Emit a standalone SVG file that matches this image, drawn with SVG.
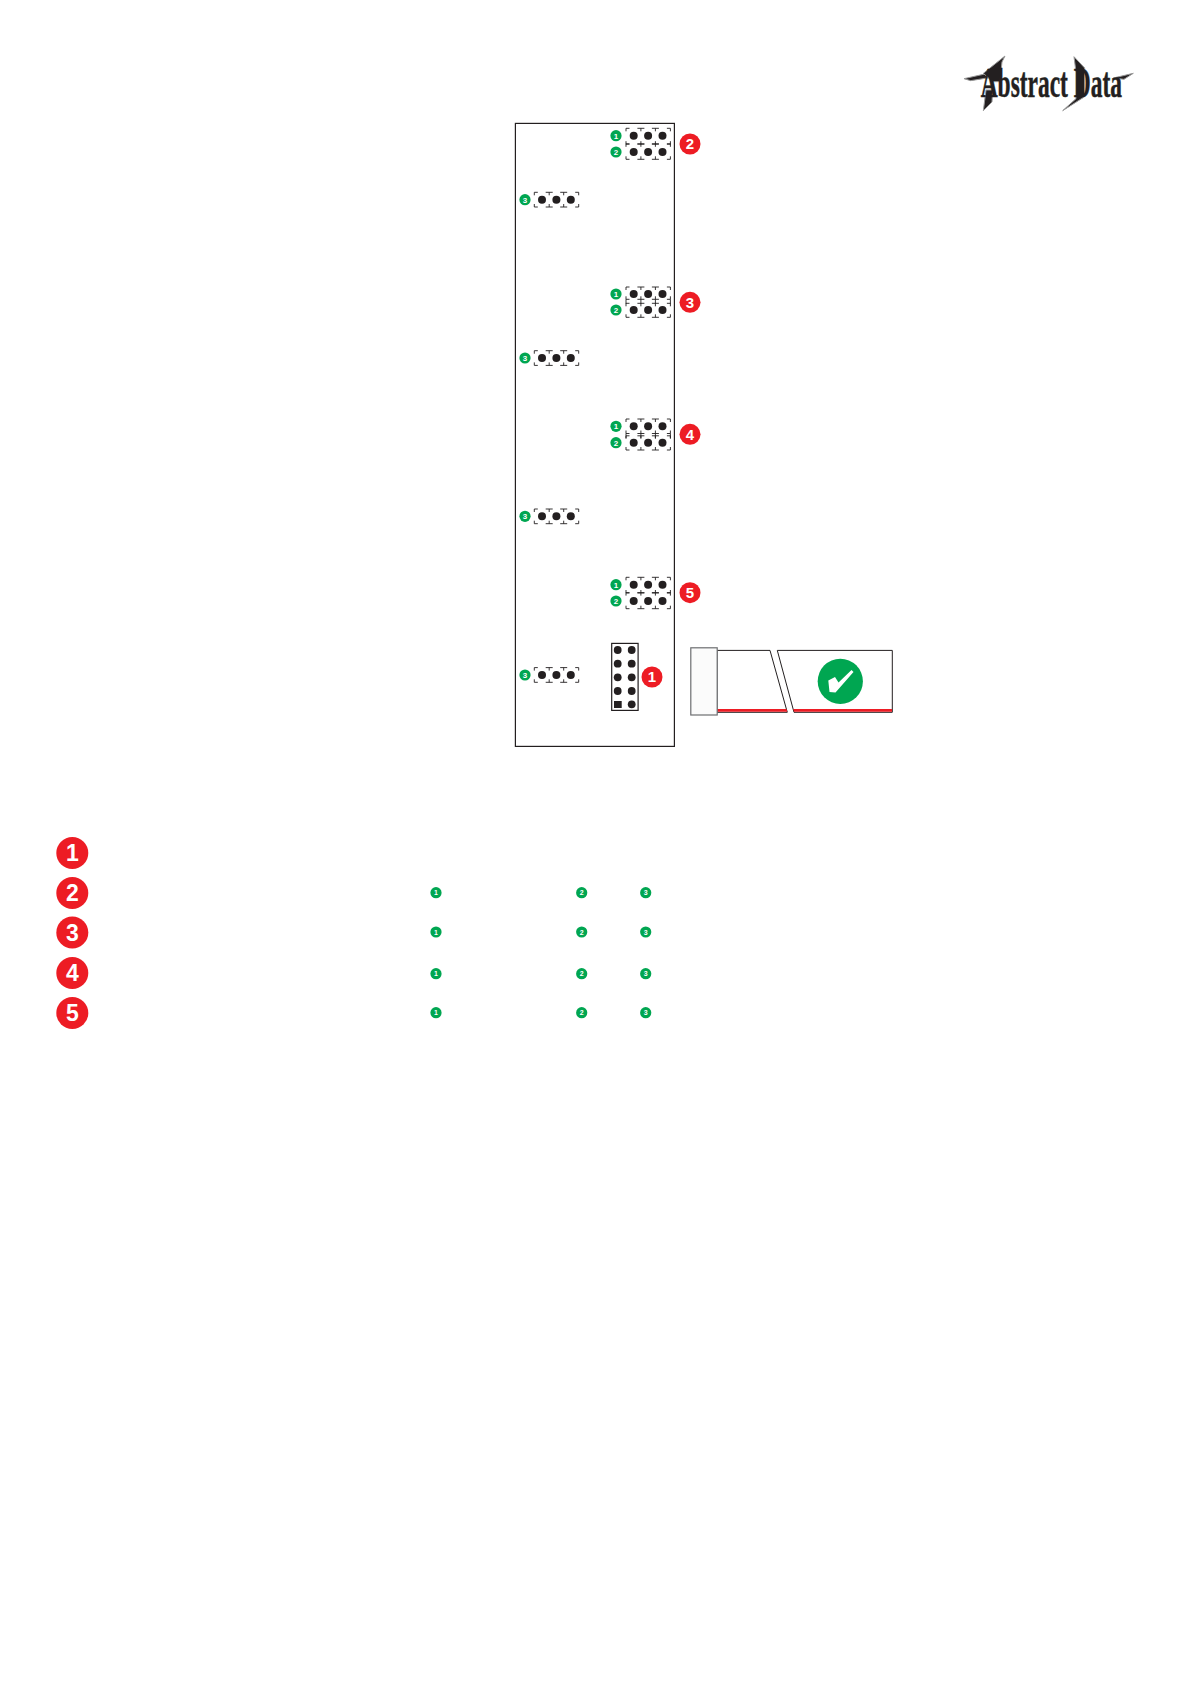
<svg xmlns="http://www.w3.org/2000/svg" width="1192" height="1685" viewBox="0 0 1192 1685">
<style>
.board{fill:#fff;stroke:#231f20;stroke-width:1.2}
.pin{fill:#231f20}
.jl{fill:none;stroke:#231f20;stroke-width:.9}
.r{fill:#ed1c24}
.g{fill:#00a651}
.rt{fill:#fff;font-family:"Liberation Sans",Arial,sans-serif;font-weight:700;text-anchor:middle}
.s{font-size:15px}
.l{font-size:23px}
.m{font-size:8px}
.xs{font-size:7px}
.wire{fill:#fff;stroke:#231f20;stroke-width:1}
.logo{font-family:"Liberation Serif","Times New Roman",serif;font-weight:700;fill:#231f20;stroke:#231f20;stroke-width:1.5}
</style>
<defs>
<path id="jt" class="jl" d="M-7.7 3V0H-4.2M33.2 0H36.7V3M3.7 0H10.7M7.2 0V3M18.2 0H25.2M21.7 0V3"/>
<path id="jb" class="jl" d="M-7.7 -3V0H-4.2M33.2 0H36.7V-3M3.7 0H10.7M7.2 0V-3M18.2 0H25.2M21.7 0V-3"/>
<path id="jm" class="jl" d="M-7.7 0V4.5M7.2 0V4.5M21.7 0V4.5M36.7 0V4.5"/>
<g id="dots"><circle class="pin" cx="0" cy="0" r="4"/><circle class="pin" cx="14.4" cy="0" r="4"/><circle class="pin" cx="28.8" cy="0" r="4"/></g>
</defs>
<rect width="1192" height="1685" fill="#fff"/>

<g id="logo" transform="translate(950 40) scale(.3333)">
<g fill="#231f20" stroke="#9a9a9a" stroke-width="3">
<polygon points="42,116 100,103 125,103 118,113 62,122"/>
<polygon points="100,100 165,48 156,66 150,125 128,125"/>
<polygon points="100,212 108,150 128,150 126,186"/>
<polygon points="372,50 404,84 404,170 338,212 378,176 378,96"/>
<polygon points="490,114 550,100 522,118"/>
</g>
<text class="logo" transform="translate(92 172) scale(.55 1)" font-size="128">Abstract Data</text>
</g>

<rect id="board" class="board" x="515.4" y="123.4" width="159" height="623"/>

<g id="jumper-2" transform="translate(633.7 0)">
<use href="#jt" y="128.3"/><use href="#jb" y="144.2"/><use href="#jt" y="143.8"/><use href="#jb" y="159.3"/>
<use href="#dots" y="135.7"/><use href="#dots" y="152"/>
</g>
<g id="jumper-3" transform="translate(633.7 0)">
<use href="#jt" y="287"/><use href="#jb" y="299.3"/><use href="#jm" y="299.3"/><use href="#jt" y="303.3"/><use href="#jb" y="317.3"/>
<use href="#dots" y="294"/><use href="#dots" y="310"/>
</g>
<g id="jumper-4" transform="translate(633.7 0)">
<use href="#jt" y="419"/><use href="#jb" y="433.5"/><use href="#jm" y="433.5"/><use href="#jt" y="435.8"/><use href="#jb" y="450"/>
<use href="#dots" y="426.3"/><use href="#dots" y="442.7"/>
</g>
<g id="jumper-5" transform="translate(633.7 0)">
<use href="#jt" y="577.3"/><use href="#jb" y="593"/><use href="#jt" y="592.6"/><use href="#jb" y="608.7"/>
<use href="#dots" y="584.7"/><use href="#dots" y="601"/>
</g>
<g id="jumper-s1" transform="translate(542 0)"><use href="#jt" y="192.3"/><use href="#jb" y="207"/><use href="#dots" y="199.7"/></g>
<g id="jumper-s2" transform="translate(542 0)"><use href="#jt" y="350.7"/><use href="#jb" y="365.4"/><use href="#dots" y="358"/></g>
<g id="jumper-s3" transform="translate(542 0)"><use href="#jt" y="509"/><use href="#jb" y="523.7"/><use href="#dots" y="516.3"/></g>
<g id="jumper-s4" transform="translate(542 0)"><use href="#jt" y="667.6"/><use href="#jb" y="682.3"/><use href="#dots" y="675"/></g>

<g id="header">
<rect x="611.7" y="643.4" width="26.4" height="67" fill="#fff" stroke="#231f20" stroke-width="1.2"/>
<circle class="pin" cx="617.7" cy="650" r="3.9"/><circle class="pin" cx="631.7" cy="650" r="3.9"/>
<circle class="pin" cx="617.7" cy="663.7" r="3.9"/><circle class="pin" cx="631.7" cy="663.7" r="3.9"/>
<circle class="pin" cx="617.7" cy="677.3" r="3.9"/><circle class="pin" cx="631.7" cy="677.3" r="3.9"/>
<circle class="pin" cx="617.7" cy="691" r="3.9"/><circle class="pin" cx="631.7" cy="691" r="3.9"/>
<rect class="pin" x="614" y="701" width="7.7" height="7"/><circle class="pin" cx="631.7" cy="704.3" r="3.9"/>
</g>

<g id="cable">
<polygon class="wire" points="717,650.4 770,650.4 787.3,712.3 717,712.3"/>
<polygon class="wire" points="777.3,650.4 892.3,650.4 892.3,712.3 794,712.3"/>
<polygon class="r" points="717,709 786.5,709 787.3,711.8 717,711.8"/>
<polygon class="r" points="793.2,709 892,709 892,711.8 794,711.8"/>
<rect x="690.8" y="647.8" width="26.4" height="67.2" fill="#fbfbfb" stroke="#6d6e71" stroke-width="1.2"/>
<circle class="g" cx="840.3" cy="681.3" r="22.6"/>
<polygon fill="#fff" points="828.3,680.5 835,677 838.5,682.5 851.5,670 853.5,672 835.5,692.5 829.5,692"/>
</g>

<g id="badge-board-2"><circle class="r" cx="690" cy="144" r="10.5"/><text class="rt s" x="690" y="149.4">2</text></g>
<g id="badge-board-3"><circle class="r" cx="690" cy="302.3" r="10.5"/><text class="rt s" x="690" y="307.7">3</text></g>
<g id="badge-board-4"><circle class="r" cx="690" cy="434.3" r="10.5"/><text class="rt s" x="690" y="439.7">4</text></g>
<g id="badge-board-5"><circle class="r" cx="690" cy="592.7" r="10.5"/><text class="rt s" x="690" y="598.1">5</text></g>
<g id="badge-board-1"><circle class="r" cx="652" cy="677" r="10.5"/><text class="rt s" x="652" y="682.4">1</text></g>

<g id="tags-board">
<circle class="g" cx="616" cy="135.7" r="5.6"/><text class="rt m" x="616" y="138.5">1</text>
<circle class="g" cx="616" cy="152" r="5.6"/><text class="rt m" x="616" y="154.8">2</text>
<circle class="g" cx="616" cy="294" r="5.6"/><text class="rt m" x="616" y="296.8">1</text>
<circle class="g" cx="616" cy="310" r="5.6"/><text class="rt m" x="616" y="312.8">2</text>
<circle class="g" cx="616" cy="426.3" r="5.6"/><text class="rt m" x="616" y="429.1">1</text>
<circle class="g" cx="616" cy="442.7" r="5.6"/><text class="rt m" x="616" y="445.5">2</text>
<circle class="g" cx="616" cy="584.7" r="5.6"/><text class="rt m" x="616" y="587.5">1</text>
<circle class="g" cx="616" cy="601" r="5.6"/><text class="rt m" x="616" y="603.8">2</text>
<circle class="g" cx="525" cy="199.7" r="5.6"/><text class="rt m" x="525" y="202.5">3</text>
<circle class="g" cx="525" cy="358" r="5.6"/><text class="rt m" x="525" y="360.8">3</text>
<circle class="g" cx="525" cy="516.3" r="5.6"/><text class="rt m" x="525" y="519.1">3</text>
<circle class="g" cx="525" cy="675" r="5.6"/><text class="rt m" x="525" y="677.8">3</text>
</g>

<g id="legend-1"><circle class="r" cx="72.3" cy="853" r="16"/><text class="rt l" x="72.3" y="861.2">1</text></g>
<g id="legend-2"><circle class="r" cx="72.3" cy="893" r="16"/><text class="rt l" x="72.3" y="901.2">2</text>
<circle class="g" cx="436" cy="892.7" r="5.6"/><text class="rt xs" x="436" y="895.2">1</text>
<circle class="g" cx="581.7" cy="892.7" r="5.6"/><text class="rt xs" x="581.7" y="895.2">2</text>
<circle class="g" cx="645.7" cy="892.7" r="5.6"/><text class="rt xs" x="645.7" y="895.2">3</text></g>
<g id="legend-3"><circle class="r" cx="72.3" cy="932.5" r="16"/><text class="rt l" x="72.3" y="940.7">3</text>
<circle class="g" cx="436" cy="932" r="5.6"/><text class="rt xs" x="436" y="934.5">1</text>
<circle class="g" cx="581.7" cy="932" r="5.6"/><text class="rt xs" x="581.7" y="934.5">2</text>
<circle class="g" cx="645.7" cy="932" r="5.6"/><text class="rt xs" x="645.7" y="934.5">3</text></g>
<g id="legend-4"><circle class="r" cx="72.3" cy="973" r="16"/><text class="rt l" x="72.3" y="981.2">4</text>
<circle class="g" cx="436" cy="973.7" r="5.6"/><text class="rt xs" x="436" y="976.2">1</text>
<circle class="g" cx="581.7" cy="973.7" r="5.6"/><text class="rt xs" x="581.7" y="976.2">2</text>
<circle class="g" cx="645.7" cy="973.7" r="5.6"/><text class="rt xs" x="645.7" y="976.2">3</text></g>
<g id="legend-5"><circle class="r" cx="72.3" cy="1013" r="16"/><text class="rt l" x="72.3" y="1021.2">5</text>
<circle class="g" cx="436" cy="1012.7" r="5.6"/><text class="rt xs" x="436" y="1015.2">1</text>
<circle class="g" cx="581.7" cy="1012.7" r="5.6"/><text class="rt xs" x="581.7" y="1015.2">2</text>
<circle class="g" cx="645.7" cy="1012.7" r="5.6"/><text class="rt xs" x="645.7" y="1015.2">3</text></g>
</svg>
